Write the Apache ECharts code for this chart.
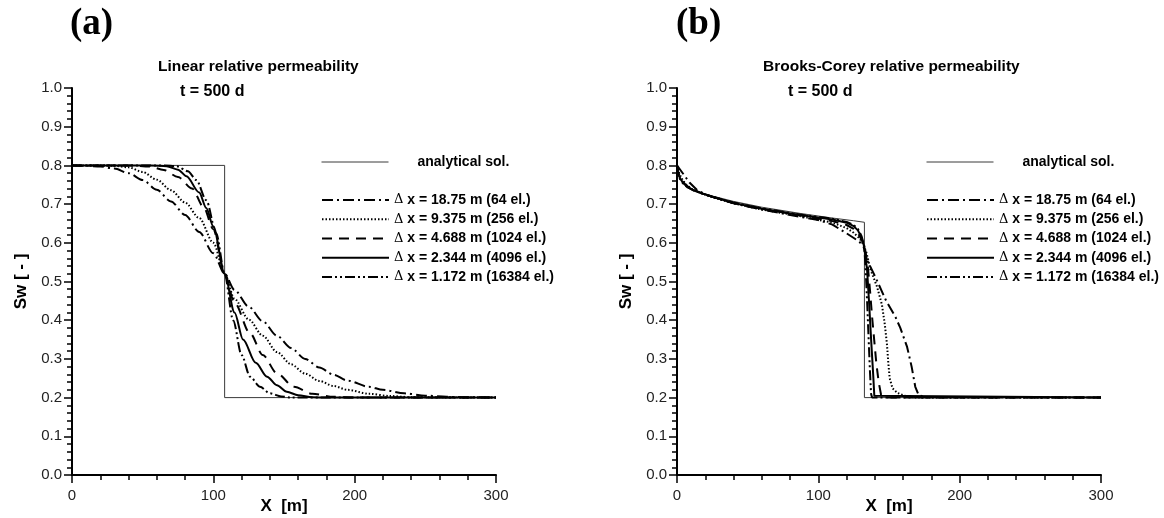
<!DOCTYPE html>
<html>
<head>
<meta charset="utf-8">
<script src="https://cdn.jsdelivr.net/npm/echarts@6/dist/echarts.min.js"></script>
<style>html,body{margin:0;padding:0;background:#fff}#c{width:1164px;height:518px}</style>
</head>
<body>
<div id="c"></div>
<script>
// ---------- DATA ----------
const xTicks = [0, 100, 200, 300];
const yTicks = [0, 0.1, 0.2, 0.3, 0.4, 0.5, 0.6, 0.7, 0.8, 0.9, 1.0];
const seriesNames = ['analytical sol.', 'Δ x = 18.75 m (64 el.)', 'Δ x = 9.375 m (256 el.)',
  'Δ x = 4.688 m (1024 el.)', 'Δ x = 2.344 m (4096 el.)', 'Δ x = 1.172 m (16384 el.)'];

// (a) Linear relative permeability
const linAnalytical = [[0,0.8],[108,0.8],[108,0.2],[300,0.2]];
const linDx18 = [[0,0.8],[10,0.799],[20,0.797],[30,0.792],[40,0.78],[50,0.762],[60,0.737],[70,0.707],[80,0.672],[90,0.628],[100,0.573],[108,0.52],[115,0.478],[125,0.435],[135,0.397],[145,0.36],[155,0.328],[165,0.3],[175,0.278],[185,0.259],[195,0.244],[210,0.228],[220,0.22],[235,0.211],[250,0.205],[265,0.202],[280,0.201],[300,0.2]];
const linDx9 = [[0,0.8],[20,0.8],[30,0.799],[40,0.795],[50,0.783],[60,0.763],[70,0.736],[80,0.704],[90,0.664],[100,0.6],[108,0.52],[115,0.455],[125,0.402],[135,0.36],[145,0.318],[155,0.286],[165,0.262],[175,0.243],[185,0.23],[195,0.22],[210,0.21],[225,0.204],[240,0.201],[300,0.2]];
const linDx4 = [[0,0.8],[40,0.8],[55,0.797],[65,0.788],[75,0.77],[85,0.74],[93,0.693],[100,0.635],[108,0.52],[115,0.445],[126,0.366],[135,0.31],[145,0.263],[157,0.228],[170,0.21],[185,0.202],[200,0.2],[300,0.2]];
const linDx2 = [[0,0.8],[55,0.8],[67,0.798],[75,0.789],[81,0.772],[90,0.73],[95,0.69],[100,0.642],[108,0.52],[115,0.42],[121,0.35],[130,0.29],[138,0.254],[145,0.232],[152,0.215],[160,0.206],[170,0.201],[180,0.2],[300,0.2]];
const linDx1 = [[0,0.8],[65,0.8],[74,0.798],[82,0.785],[88,0.762],[95,0.71],[102,0.625],[108,0.52],[114,0.4],[120,0.31],[126,0.254],[133,0.228],[140,0.211],[148,0.203],[155,0.2],[300,0.2]];

// (b) Brooks-Corey relative permeability
const bcAnalytical = [[0,0.8],[0.3,0.785],[1,0.774],[2.5,0.763],[5,0.753],[8,0.744],[12,0.737],[18,0.729],[25,0.721],[40,0.707],[60,0.692],[87,0.676],[110,0.664],[125,0.657],[132.6,0.653],[132.6,0.2],[300,0.2]];
const bcDx18 = [[0,0.8],[2,0.79],[5,0.775],[9,0.755],[14,0.737],[20,0.725],[30,0.713],[40,0.702],[60,0.686],[87,0.667],[100,0.659],[110,0.647],[118,0.629],[124,0.615],[129,0.603],[132,0.59],[134.5,0.555],[140.3,0.512],[148,0.45],[154.5,0.409],[158,0.38],[162.8,0.331],[166,0.28],[168.6,0.228],[171,0.206],[176,0.201],[185,0.2],[300,0.2]];
const bcDx9 = [[0,0.8],[1,0.785],[3,0.768],[6,0.752],[10,0.74],[15,0.731],[25,0.718],[40,0.702],[60,0.686],[87,0.669],[110,0.652],[120,0.638],[125,0.626],[129,0.612],[132,0.595],[134,0.575],[137,0.53],[141.5,0.487],[145,0.44],[147,0.39],[148.5,0.34],[149.5,0.29],[150.5,0.25],[152.5,0.224],[156,0.212],[161,0.205],[168,0.2],[300,0.2]];
const bcDx4 = [[0,0.8],[0.7,0.785],[2,0.77],[4,0.758],[7,0.747],[11,0.738],[18,0.727],[25,0.719],[40,0.703],[60,0.688],[87,0.671],[110,0.656],[120,0.646],[125,0.636],[128,0.625],[131,0.605],[133,0.585],[135,0.54],[136.5,0.48],[138,0.41],[139.5,0.35],[141,0.29],[142.7,0.24],[144.5,0.205],[146,0.2],[300,0.2]];
const bcDx2 = [[0,0.8],[0.5,0.785],[1.5,0.772],[3,0.762],[5,0.752],[8,0.743],[12,0.735],[18,0.727],[25,0.719],[40,0.703],[60,0.688],[87,0.672],[110,0.66],[120,0.652],[125,0.643],[128,0.632],[130.5,0.614],[132.5,0.59],[134.5,0.53],[136,0.44],[137.5,0.34],[138.8,0.26],[139.6,0.205],[140.5,0.2],[300,0.2]];
const bcDx1 = [[0,0.8],[0.3,0.785],[1,0.772],[2.5,0.762],[4.5,0.752],[7.5,0.743],[12,0.735],[18,0.727],[25,0.719],[40,0.704],[60,0.689],[87,0.673],[110,0.662],[120,0.654],[125,0.646],[128,0.636],[130.5,0.618],[132.5,0.592],[133.5,0.53],[134.5,0.45],[135.5,0.36],[136.5,0.27],[137.3,0.21],[138,0.2],[300,0.2]];

// ---------- STYLE ----------
const SANS = 'Liberation Sans';
const dashStyles = [
  {color:'#3a3a3a', width:1, type:'solid'},
  {color:'#000', width:2, type:[11,4,2,4]},
  {color:'#000', width:2, type:[1.5,2]},
  {color:'#000', width:2, type:[10,7]},
  {color:'#000', width:2, type:'solid'},
  {color:'#000', width:2, type:[10,3,2,3,2,3]}
];

const chart = echarts.init(document.getElementById('c'), null, {renderer:'canvas'});

function xAxisOpt(gi){
  return {
    gridIndex: gi, type:'value', min: xTicks[0], max: xTicks[xTicks.length-1], interval: xTicks[1]-xTicks[0],
    name:'X  [m]', nameLocation:'middle', nameGap:23, nameMoveOverlap:false,
    nameTextStyle:{fontFamily:SANS, fontWeight:'bold', fontSize:17, color:'#000'},
    axisLine:{show:true, onZero:false, lineStyle:{color:'#000', width:2}},
    axisTick:{show:true, length:8, lineStyle:{color:'#000', width:1.5}},
    minorTick:{show:true, splitNumber:5, length:5, lineStyle:{color:'#000', width:1.5}},
    splitLine:{show:false}, minorSplitLine:{show:false},
    axisLabel:{fontFamily:SANS, fontSize:15, color:'#222', margin:13}
  };
}
function yAxisOpt(gi){
  return {
    gridIndex: gi, type:'value', min: yTicks[0], max: yTicks[yTicks.length-1], interval: 0.1,
    name:'Sw [ - ]', nameLocation:'middle', nameGap:42, nameMoveOverlap:false,
    nameTextStyle:{fontFamily:SANS, fontWeight:'bold', fontSize:17, color:'#000'},
    axisLine:{show:true, onZero:false, lineStyle:{color:'#000', width:2}},
    axisTick:{show:true, length:8, lineStyle:{color:'#000', width:1.5}},
    minorTick:{show:true, splitNumber:5, length:5, lineStyle:{color:'#000', width:1.5}},
    splitLine:{show:false}, minorSplitLine:{show:false},
    axisLabel:{fontFamily:SANS, fontSize:15, color:'#222', margin:10, formatter:v=>v.toFixed(1)}
  };
}

function mkSeries(gi, datas, smooth){
  return datas.map((d,i)=>({
    type:'line', name: seriesNames[i], xAxisIndex:gi, yAxisIndex:gi, data:d,
    symbol:'none', showSymbol:false, smooth: (i>0 && smooth) ? 0.3 : false,
    smoothMonotone: 'x',
    lineStyle: dashStyles[i], itemStyle:{color:dashStyles[i].color},
    emphasis:{disabled:true}, animation:false, z: i===0 ? 1 : 2 + i
  }));
}

const legendText = {
  fontFamily:SANS, fontWeight:'bold', fontSize:14, color:'#000',
  rich:{
    d:{fontFamily:'DejaVu Serif', fontWeight:'normal', fontSize:13, color:'#000'},
    b:{fontFamily:SANS, fontWeight:'bold', fontSize:14, color:'#000'}
  }
};
function legendPair(lineLeft){
  return [
    {
      orient:'vertical', left:lineLeft, top:155, padding:0, itemWidth:67, itemHeight:14, itemGap:5,
      data:[seriesNames[0]], selectedMode:false,
      itemStyle:{opacity:0, color:'rgba(0,0,0,0)', borderWidth:0},
      lineStyle:{width:'inherit'},
      textStyle:{fontFamily:SANS, fontWeight:'bold', fontSize:14, color:'#000', padding:[0,0,0,24]}
    },
    {
      orient:'vertical', left:lineLeft, top:193, padding:0, itemWidth:67, itemHeight:14, itemGap:5.25,
      data:seriesNames.slice(1), selectedMode:false,
      itemStyle:{opacity:0, color:'rgba(0,0,0,0)', borderWidth:0},
      lineStyle:{width:'inherit'},
      formatter: n => '{d|Δ}{b|' + n.slice(1) + '}',
      textStyle: legendText
    }
  ];
}

const serifTitle = {fontFamily:'Liberation Serif', fontWeight:'bold', fontSize:37, color:'#000'};
const plotTitle = {fontFamily:SANS, fontWeight:'bold', fontSize:15.5, color:'#000'};
const timeTitle = {fontFamily:SANS, fontWeight:'bold', fontSize:16, color:'#000'};
const option = {
  animation:false,
  backgroundColor:'#fff',
  title:[
    {text:'(a)', left:70, top:6, padding:0, textStyle:serifTitle},
    {text:'(b)', left:676, top:6, padding:0, textStyle:serifTitle},
    {text:'Linear relative permeability', left:158, top:59, padding:0, textStyle:plotTitle},
    {text:'t = 500 d', left:180, top:84, padding:0, textStyle:timeTitle},
    {text:'Brooks-Corey relative permeability', left:763, top:59, padding:0, textStyle:plotTitle},
    {text:'t = 500 d', left:788, top:84, padding:0, textStyle:timeTitle}
  ],
  legend: legendPair(321).concat(legendPair(926)),
  grid:[
    {left:72, top:88, width:424, height:387, containLabel:false, outerBoundsMode:'none'},
    {left:677, top:88, width:424, height:387, containLabel:false, outerBoundsMode:'none'}
  ],
  xAxis:[xAxisOpt(0), xAxisOpt(1)],
  yAxis:[yAxisOpt(0), yAxisOpt(1)],
  series: mkSeries(0, [linAnalytical, linDx18, linDx9, linDx4, linDx2, linDx1], true)
    .concat(mkSeries(1, [bcAnalytical, bcDx18, bcDx9, bcDx4, bcDx2, bcDx1], false))
};
chart.setOption(option);
</script>
</body>
</html>
